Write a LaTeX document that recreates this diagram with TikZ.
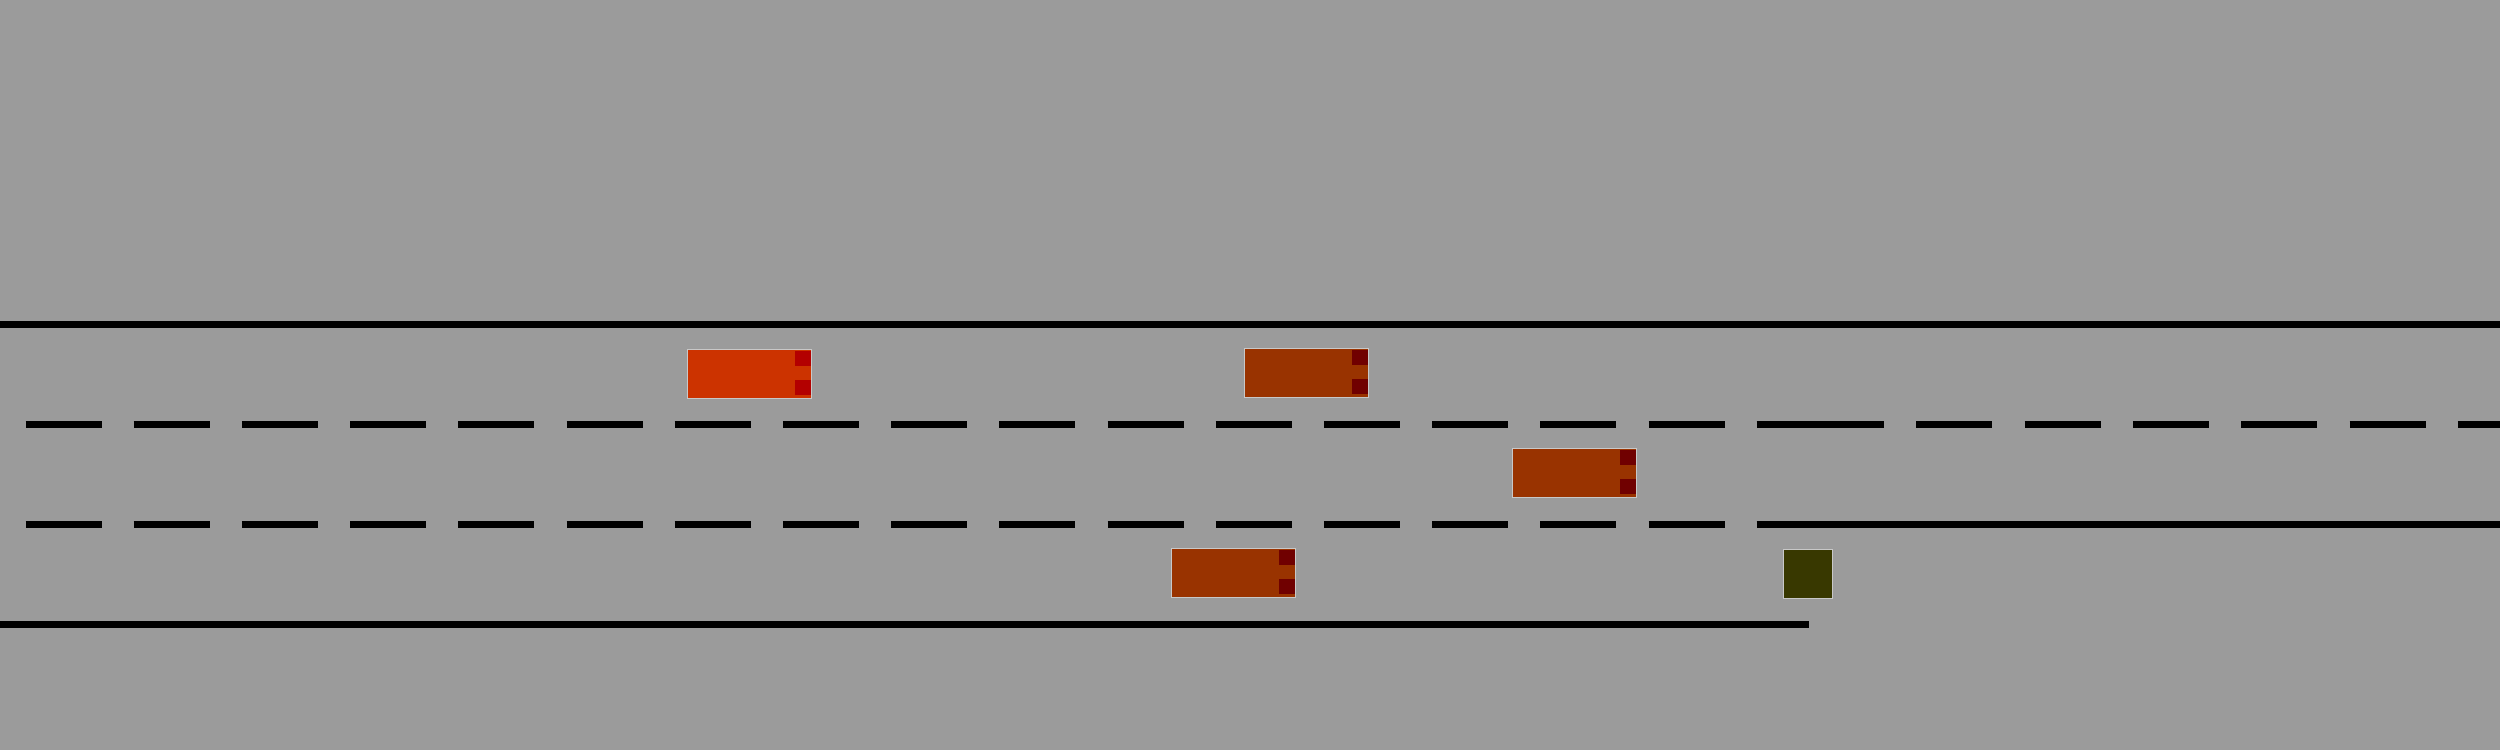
\documentclass[tikz,border=0pt]{standalone}
\usetikzlibrary{calc}
\definecolor{bg}{RGB}{155,155,155}
\definecolor{redcar}{RGB}{204,51,0}
\definecolor{redtail}{RGB}{179,0,0}
\definecolor{browncar}{RGB}{153,51,0}
\definecolor{browntail}{RGB}{112,0,0}
\definecolor{obst}{RGB}{56,56,0}
\definecolor{rim}{RGB}{200,200,200}
\tikzset{
  roadline/.style={line width=0.07cm, black, line cap=butt},
  leftdash/.style={roadline, dash pattern=on 0.76cm off 0.322cm, dash phase=0.827cm},
  rightdash/.style={roadline, dash pattern=on 0.76cm off 0.323cm},
  vehicle/.style n args={2}{rectangle, inner sep=0pt, minimum width=1.24cm, minimum height=0.495cm,
    draw=rim, line width=0.3pt, fill=#1,
    path picture={
      \fill[#2] ($(path picture bounding box.north east)+(-0.17,-0.017)$) rectangle ++(0.17,-0.15);
      \fill[#2] ($(path picture bounding box.south east)+(-0.17,0.035)$) rectangle ++(0.17,0.15);
    }},
  block/.style={rectangle, inner sep=0pt, minimum size=0.495cm, draw=rim, line width=0.3pt, fill=obst}
}
\begin{document}
\begin{tikzpicture}
\useasboundingbox (0,0) rectangle (25,7.5);
\fill[bg] (0,0) rectangle (25,7.5);
% road geometry
\coordinate (tl) at (0,4.255);   \coordinate (tr) at (25,4.255);
\coordinate (d1l) at (0,3.255);  \coordinate (d1m) at (18.09,3.255); \coordinate (d1r) at (25,3.255);
\coordinate (d2l) at (0,2.255);  \coordinate (d2m) at (18.09,2.255); \coordinate (d2r) at (25,2.255);
\coordinate (bl) at (0,1.255);   \coordinate (bm) at (18.09,1.255);
\draw[roadline] (tl) -- (tr);
\draw[leftdash] (d1l) -- (d1m);
\draw[rightdash] ([xshift=-0.01cm]d1m) -- (d1r);
\draw[leftdash] (d2l) -- (d2m);
\draw[roadline] ([xshift=-0.01cm]d2m) -- (d2r);
\draw[roadline] (bl) -- (bm);
% vehicles
\node[vehicle={redcar}{redtail}] (car1) at (7.495,3.762) {};
\node[vehicle={browncar}{browntail}] (car2) at (13.065,3.77) {};
\node[vehicle={browncar}{browntail}] (car3) at (15.745,2.77) {};
\node[vehicle={browncar}{browntail}] (car4) at (12.335,1.77) {};
\node[block] (obstacle) at (18.08,1.76) {};
\end{tikzpicture}
\end{document}
